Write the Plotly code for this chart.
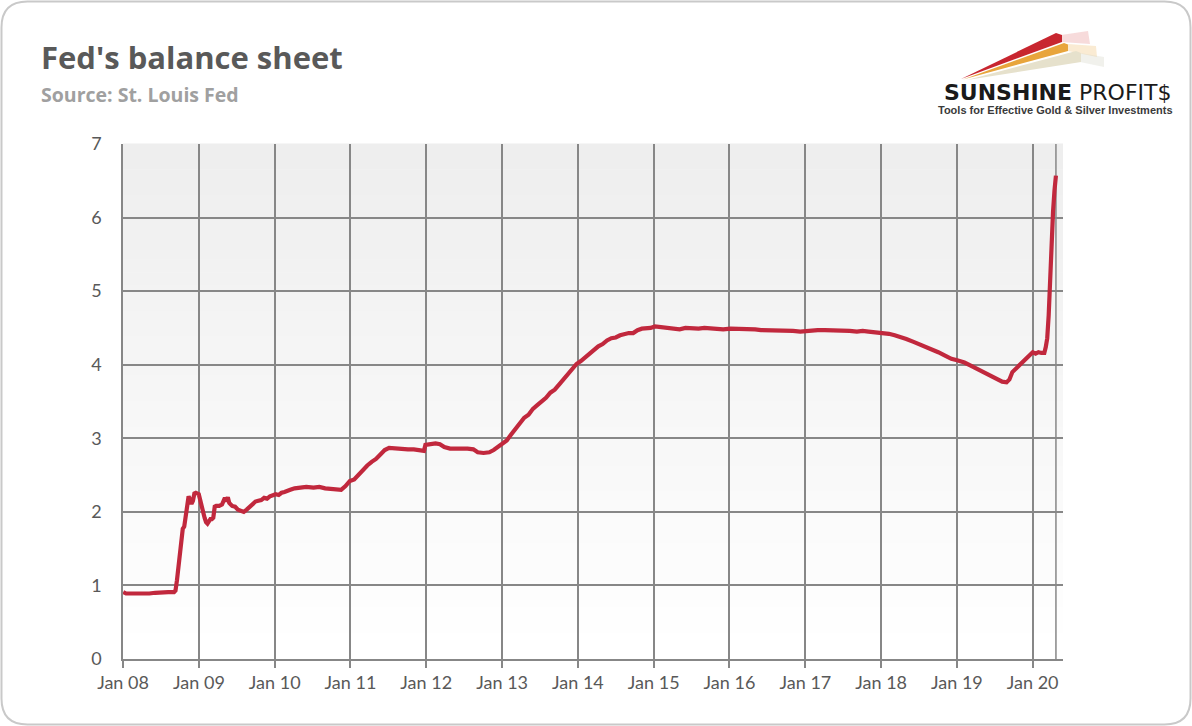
import plotly.graph_objects as go

# ---------------- data (trillions of USD) ----------------
dates = [
    "2008-01-02", "2008-01-16", "2008-02-06", "2008-03-05", "2008-04-02", "2008-05-07",
    "2008-06-04", "2008-07-02", "2008-08-06", "2008-09-03", "2008-09-10", "2008-09-17",
    "2008-09-24", "2008-10-01", "2008-10-08", "2008-10-15", "2008-10-22", "2008-10-29",
    "2008-11-05", "2008-11-12", "2008-11-19", "2008-11-26", "2008-12-03", "2008-12-10",
    "2008-12-17", "2008-12-24", "2008-12-31", "2009-01-07", "2009-01-14", "2009-01-21",
    "2009-01-28", "2009-02-04", "2009-02-11", "2009-02-18", "2009-02-25", "2009-03-04",
    "2009-03-11", "2009-03-18", "2009-03-25", "2009-04-08", "2009-04-22", "2009-05-06",
    "2009-05-13", "2009-05-20", "2009-05-27", "2009-06-10", "2009-06-24", "2009-07-08",
    "2009-07-22", "2009-08-05", "2009-08-19", "2009-09-02", "2009-09-16", "2009-09-30",
    "2009-10-14", "2009-10-28", "2009-11-11", "2009-11-25", "2009-12-09", "2009-12-23",
    "2010-01-06", "2010-01-20", "2010-02-03", "2010-02-17", "2010-03-03", "2010-03-17",
    "2010-04-07", "2010-05-05", "2010-06-02", "2010-07-07", "2010-08-04", "2010-09-01",
    "2010-10-06", "2010-10-27", "2010-11-17", "2010-12-08", "2010-12-29", "2011-01-19",
    "2011-02-09", "2011-03-02", "2011-03-23", "2011-04-13", "2011-05-04", "2011-05-25",
    "2011-06-15", "2011-07-06", "2011-08-03", "2011-09-07", "2011-10-05", "2011-11-02",
    "2011-11-30", "2011-12-21", "2011-12-28", "2012-01-18", "2012-02-15", "2012-03-07",
    "2012-03-28", "2012-04-25", "2012-05-23", "2012-06-20", "2012-07-18", "2012-08-15",
    "2012-09-05", "2012-10-03", "2012-10-31", "2012-11-21", "2012-12-12", "2013-01-02",
    "2013-01-23", "2013-02-13", "2013-03-06", "2013-03-27", "2013-04-17", "2013-05-08",
    "2013-05-29", "2013-06-19", "2013-07-10", "2013-07-31", "2013-08-21", "2013-09-11",
    "2013-10-02", "2013-10-23", "2013-11-13", "2013-12-04", "2013-12-25", "2014-01-15",
    "2014-02-05", "2014-02-26", "2014-03-19", "2014-04-09", "2014-04-30", "2014-05-21",
    "2014-06-11", "2014-07-02", "2014-07-23", "2014-08-13", "2014-09-03", "2014-09-24",
    "2014-10-15", "2014-11-05", "2014-11-26", "2014-12-17", "2015-01-07", "2015-02-04",
    "2015-03-04", "2015-04-01", "2015-05-06", "2015-06-03", "2015-07-01", "2015-08-05",
    "2015-09-02", "2015-10-07", "2015-11-04", "2015-12-02", "2016-01-06", "2016-02-03",
    "2016-03-02", "2016-04-06", "2016-05-04", "2016-06-01", "2016-07-06", "2016-08-03",
    "2016-09-07", "2016-10-05", "2016-11-02", "2016-12-07", "2017-01-04", "2017-02-01",
    "2017-03-01", "2017-04-05", "2017-05-03", "2017-06-07", "2017-07-05", "2017-08-02",
    "2017-09-06", "2017-10-04", "2017-11-01", "2017-12-06", "2018-01-03", "2018-02-07",
    "2018-03-07", "2018-04-04", "2018-05-02", "2018-06-06", "2018-07-04", "2018-08-01",
    "2018-09-05", "2018-10-03", "2018-11-07", "2018-12-05", "2019-01-02", "2019-02-06",
    "2019-03-06", "2019-04-03", "2019-05-01", "2019-06-05", "2019-07-03", "2019-08-07",
    "2019-08-28", "2019-09-11", "2019-09-25", "2019-10-09", "2019-10-23", "2019-11-06",
    "2019-11-20", "2019-12-04", "2019-12-18", "2020-01-01", "2020-01-15", "2020-01-29",
    "2020-02-12", "2020-02-26", "2020-03-04", "2020-03-11", "2020-03-18", "2020-03-25",
    "2020-04-01", "2020-04-08", "2020-04-15", "2020-04-22",
]
balance = [
    0.91, 0.89, 0.89, 0.89, 0.88, 0.89,
    0.90, 0.91, 0.91, 0.91, 0.93, 1.07,
    1.23, 1.50, 1.58, 1.77, 1.80, 1.97,
    2.06, 2.21, 2.17, 2.11, 2.15, 2.25,
    2.26, 2.24, 2.24, 2.16, 2.06, 1.99,
    1.92, 1.86, 1.84, 1.87, 1.90, 1.90,
    1.92, 2.07, 2.08, 2.08, 2.10, 2.19,
    2.14, 2.20, 2.12, 2.08, 2.07, 2.03,
    2.01, 2.00, 2.03, 2.07, 2.11, 2.14,
    2.15, 2.16, 2.19, 2.18, 2.21, 2.23,
    2.24, 2.23, 2.26, 2.27, 2.28, 2.30,
    2.32, 2.33, 2.34, 2.33, 2.34, 2.32,
    2.31, 2.30, 2.30, 2.35, 2.42, 2.44,
    2.51, 2.56, 2.63, 2.68, 2.72, 2.78,
    2.84, 2.87, 2.86, 2.86, 2.85, 2.85,
    2.84, 2.83, 2.91, 2.92, 2.93, 2.92,
    2.88, 2.86, 2.86, 2.87, 2.86, 2.85,
    2.81, 2.80, 2.81, 2.84, 2.88, 2.92,
    2.97, 3.05, 3.12, 3.20, 3.28, 3.32,
    3.40, 3.45, 3.50, 3.55, 3.62, 3.66,
    3.73, 3.80, 3.87, 3.93, 4.01, 4.05,
    4.10, 4.15, 4.20, 4.25, 4.28, 4.33,
    4.36, 4.37, 4.40, 4.42, 4.43, 4.43,
    4.47, 4.49, 4.49, 4.50, 4.52, 4.51,
    4.50, 4.49, 4.48, 4.50, 4.49, 4.49,
    4.50, 4.49, 4.49, 4.48, 4.49, 4.49,
    4.49, 4.48, 4.48, 4.47, 4.47, 4.47,
    4.46, 4.46, 4.46, 4.45, 4.46, 4.46,
    4.47, 4.47, 4.47, 4.47, 4.46, 4.46,
    4.45, 4.46, 4.45, 4.44, 4.44, 4.42,
    4.40, 4.38, 4.35, 4.31, 4.28, 4.25,
    4.21, 4.17, 4.12, 4.08, 4.06, 4.03,
    3.99, 3.95, 3.92, 3.87, 3.83, 3.77,
    3.76, 3.80, 3.90, 3.94, 3.97, 4.02,
    4.05, 4.09, 4.13, 4.17, 4.15, 4.17,
    4.16, 4.16, 4.24, 4.36, 4.67, 5.25,
    5.81, 6.08, 6.37, 6.57,
]
y_ticks = [0, 1, 2, 3, 4, 5, 6, 7]
title_text = "Fed's balance sheet"
subtitle_text = "Source: St. Louis Fed"

# ---------------- layout geometry ----------------
W, H = 1192, 726
L, R, T, B = 123, 129, 144, 67
PW, PH = W - L - R, H - T - B
GRID = "#878787"
TEXT = "#595959"
LINE = "#C1283D"


def px(x):
    return (x - L) / PW


def py(y):
    return (H - B - y) / PH


def poly(points):
    s = "M " + " L ".join(f"{px(a):.5f},{py(b):.5f}" for a, b in points) + " Z"
    return s


fig = go.Figure()
fig.add_trace(go.Scatter(
    x=dates, y=balance, mode="lines",
    line=dict(color=LINE, width=4.2), hoverinfo="x+y", showlegend=False,
))

shapes = []
# gradient plot background (grey on top fading to white)
n = 40
for i in range(n):
    t = i / (n - 1)
    c = int(round(0xEE + (0xFF - 0xEE) * t))
    shapes.append(dict(
        type="rect", xref="paper", yref="paper", x0=0, x1=1,
        y0=1 - (i + 1) / n, y1=1 - i / n + 0.001,
        fillcolor=f"rgb({c},{c},{c})", line=dict(width=0), layer="below",
    ))
# vertical gridline at the last observation
shapes.append(dict(
    type="line", xref="x", yref="y", x0=dates[-1], x1=dates[-1], y0=0, y1=y_ticks[-1],
    line=dict(color=GRID, width=1.5), layer="below",
))
# rounded outer border
r = 26
x0b, y0b, x1b, y1b = 1.5, 1.5, 1190.5, 724.5
path = (
    f"M {px(x0b + r):.5f},{py(y0b):.5f} L {px(x1b - r):.5f},{py(y0b):.5f} "
    f"Q {px(x1b):.5f},{py(y0b):.5f} {px(x1b):.5f},{py(y0b + r):.5f} "
    f"L {px(x1b):.5f},{py(y1b - r):.5f} "
    f"Q {px(x1b):.5f},{py(y1b):.5f} {px(x1b - r):.5f},{py(y1b):.5f} "
    f"L {px(x0b + r):.5f},{py(y1b):.5f} "
    f"Q {px(x0b):.5f},{py(y1b):.5f} {px(x0b):.5f},{py(y1b - r):.5f} "
    f"L {px(x0b):.5f},{py(y0b + r):.5f} "
    f"Q {px(x0b):.5f},{py(y0b):.5f} {px(x0b + r):.5f},{py(y0b):.5f} Z"
)
shapes.append(dict(type="path", xref="paper", yref="paper", path=path,
                   line=dict(color="#C9C9C9", width=2), fillcolor="rgba(0,0,0,0)"))

# logo streaks
shapes += [
    dict(type="path", xref="paper", yref="paper", layer="above",
         path=poly([(1061, 35), (1088, 31), (1090, 44), (1061, 42)]),
         fillcolor="rgba(220,90,90,0.22)", line=dict(width=0)),
    dict(type="path", xref="paper", yref="paper", layer="above",
         path=poly([(1068, 44), (1096, 46), (1097, 57), (1068, 51)]),
         fillcolor="rgba(240,190,110,0.3)", line=dict(width=0)),
    dict(type="path", xref="paper", yref="paper", layer="above",
         path=poly([(1080, 53), (1104, 57), (1104, 67), (1080, 62)]),
         fillcolor="rgba(215,215,200,0.35)", line=dict(width=0)),
    dict(type="path", xref="paper", yref="paper", layer="above",
         path=poly([(967, 80), (1076, 51), (1081, 53), (1081, 62)]),
         fillcolor="#E6E1CC", line=dict(width=0)),
    dict(type="path", xref="paper", yref="paper", layer="above",
         path=poly([(963, 79.5), (1064, 43), (1068, 44.5), (1068, 51)]),
         fillcolor="#E8A53C", line=dict(width=0)),
    dict(type="path", xref="paper", yref="paper", layer="above",
         path=poly([(961, 79), (1056, 33), (1062, 35), (1062, 42)]),
         fillcolor="#C8262F", line=dict(width=0)),
]

annotations = [
    dict(text=f"<b>{title_text}</b>", xref="paper", yref="paper",
         x=px(39), y=py(57), xanchor="left", yanchor="middle", showarrow=False,
         font=dict(family="Open Sans", size=31, color=TEXT)),
    dict(text=f"<b>{subtitle_text}</b>", xref="paper", yref="paper",
         x=px(39), y=py(95), xanchor="left", yanchor="middle", showarrow=False,
         font=dict(family="Open Sans", size=19.5, color="#A0A0A0")),
    dict(text="<b>SUNSHINE</b> PROFIT$", xref="paper", yref="paper",
         x=px(1057), y=py(92), xanchor="center", yanchor="middle", showarrow=False,
         font=dict(family="DejaVu Sans", size=22, color="#1A1A1A")),
    dict(text="<b>Tools for Effective Gold &amp; Silver Investments</b>", xref="paper", yref="paper",
         x=px(1055), y=py(110), xanchor="center", yanchor="middle", showarrow=False,
         font=dict(family="Liberation Sans", size=11, color="#3A3A3A")),
]

fig.update_layout(
    width=W, height=H,
    margin=dict(l=L, r=R, t=T, b=B, pad=0),
    paper_bgcolor="white", plot_bgcolor="white",
    shapes=shapes, annotations=annotations,
    showlegend=False,
    xaxis=dict(
        type="date", range=["2008-01-01", "2020-05-26"],
        tick0="2008-01-01", dtick="M12", tickformat="%b %y",
        showgrid=True, gridcolor=GRID, gridwidth=1.5,
        showline=True, linecolor=GRID, linewidth=1.5,
        ticks="outside", ticklen=7, tickcolor=GRID, tickwidth=1.5,
        tickfont=dict(family="Lato", size=18, color=TEXT),
        zeroline=False, fixedrange=True,
    ),
    yaxis=dict(
        range=[0, 7], tickvals=y_ticks,
        showgrid=True, gridcolor=GRID, gridwidth=1.5,
        showline=True, linecolor=GRID, linewidth=1.5,
        ticks="", ticklabelstandoff=16,
        tickfont=dict(family="Lato", size=18, color=TEXT),
        zeroline=False, fixedrange=True,
    ),
)

fig.write_html(
    "out.html",
    config={"displayModeBar": False},
    post_script="document.body.style.margin='0';document.body.style.overflow='hidden';",
)
